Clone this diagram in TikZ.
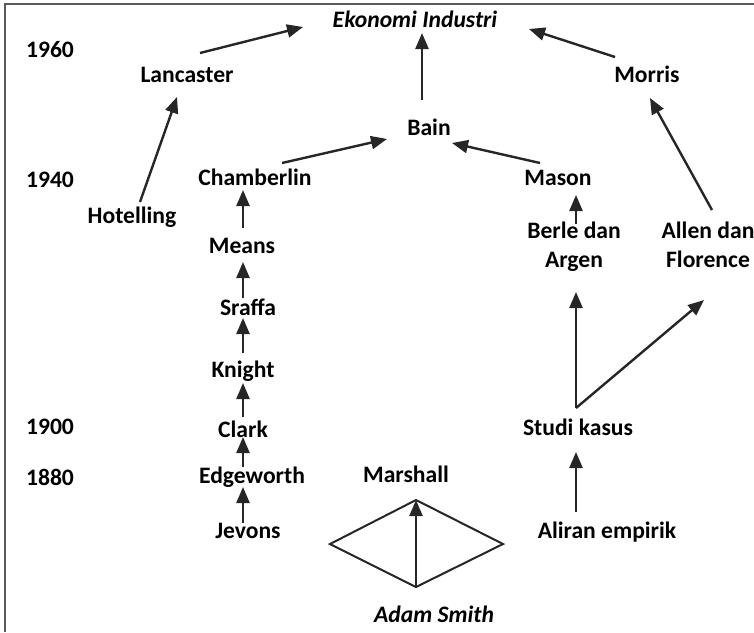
\documentclass[tikz,border=0pt]{standalone}
\usepackage{fontspec}
\setmainfont{Carlito}
\usetikzlibrary{arrows.meta,calc}
\begin{document}
\begin{tikzpicture}[x=0.5pt,y=-0.5pt,
  lbl/.style={font=\fontsize{11.8}{14.5}\selectfont\bfseries, inner sep=0pt, anchor=base, align=center},
  ilbl/.style={lbl, font=\fontsize{11.8}{14.5}\selectfont\bfseries\itshape},
  arr/.style={line width=1.2pt, draw={black!85}, -{Triangle[length=8pt,width=6.5pt]}},
  frame/.style={line width=1pt, draw={black!65}}]
\useasboundingbox (0,0) rectangle (754,632);
\draw[frame] (5,632) -- (5,4) -- (754,4);
% year labels
\node[lbl] (y1960) at (50,57) {1960};
\node[lbl] (y1940) at (50,187) {1940};
\node[lbl] (y1900) at (50,434) {1900};
\node[lbl] (y1880) at (50,485) {1880};
% names
\node[ilbl] (eko) at (415,27) {Ekonomi Industri};
\node[lbl] (lan) at (187,82.5) {Lancaster};
\node[lbl] (morris) at (647,82.5) {Morris};
\node[lbl] (bain) at (429,135) {Bain};
\node[lbl] (cha) at (255,185) {Chamberlin};
\node[lbl] (mas) at (558,185.5) {Mason};
\node[lbl] (hot) at (132,223) {Hotelling};
\node[lbl] (berle) at (574,267) {Berle dan\\Argen};
\node[lbl] (allen) at (708,267) {Allen dan\\Florence};
\node[lbl] (means) at (242,253) {Means};
\node[lbl] (sraffa) at (248,315) {Sraffa};
\node[lbl] (knight) at (243,377) {Knight};
\node[lbl] (clark) at (243,437) {Clark};
\node[lbl] (studi) at (578,435) {Studi kasus};
\node[lbl] (edge) at (252,483) {Edgeworth};
\node[lbl] (marsh) at (406,482) {Marshall};
\node[lbl] (jev) at (248,538) {Jevons};
\node[lbl] (aliran) at (607,538) {Aliran empirik};
\node[ilbl] (adam) at (434,622) {Adam Smith};
% diamond
\coordinate (dT) at (416,500);
\coordinate (dL) at (330,544);
\coordinate (dR) at (503,544);
\coordinate (dB) at (416,587);
\draw[line width=1pt, black!85] (dT) -- (dR) -- (dB) -- (dL) -- cycle;
\draw[arr] (dB) -- (dT);
% connectors
\draw[arr] ($(lan.base)+(13,-29.5)$) -- ($(eko.base)+(-112,0)$);
\draw[arr] ($(hot.base)+(8,-21)$) -- ($(lan.base)+(-10,14.5)$);
\draw[arr] ($(cha.base)+(27,-22)$) -- ($(bain.base)+(-42,4)$);
\draw[arr] ($(bain.base)+(-7,-35)$) -- ($(eko.base)+(7,6)$);
\draw[arr] ($(mas.base)+(-18,-22.5)$) -- ($(bain.base)+(23,8)$);
\draw[arr] ($(morris.base)+(-32,-25.5)$) -- ($(eko.base)+(114,2)$);
\draw[arr] ($(allen.base)+(4,-57)$) -- ($(morris.base)+(3,15.5)$);
\draw[arr] ($(berle.base)+(2,-43)$) -- ($(mas.base)+(18,9.5)$);
\draw[arr] ($(means.base)+(1,-25)$) -- ($(cha.base)+(-12,5)$);
\draw[arr] ($(sraffa.base)+(-5,-17)$) -- ($(means.base)+(1,9)$);
\draw[arr] ($(knight.base)+(0,-24)$) -- ($(sraffa.base)+(-5,3)$);
\draw[arr] ($(clark.base)+(0,-20)$) -- ($(knight.base)+(0,6)$);
\draw[arr] ($(edge.base)+(-9,-16)$) -- ($(clark.base)+(0,0)$);
\draw[arr] ($(jev.base)+(-5,-15)$) -- ($(edge.base)+(-9,4)$);
\draw[arr] ($(aliran.base)+(-31,-26)$) -- ($(studi.base)+(-2,17)$);
\coordinate (sk) at ($(studi.base)+(-2,-27)$);
\draw[arr] (sk) -- ($(berle.base)+(2,25)$);
\draw[arr] (sk) -- ($(allen.base)+(-4,33)$);
\end{tikzpicture}
\end{document}
